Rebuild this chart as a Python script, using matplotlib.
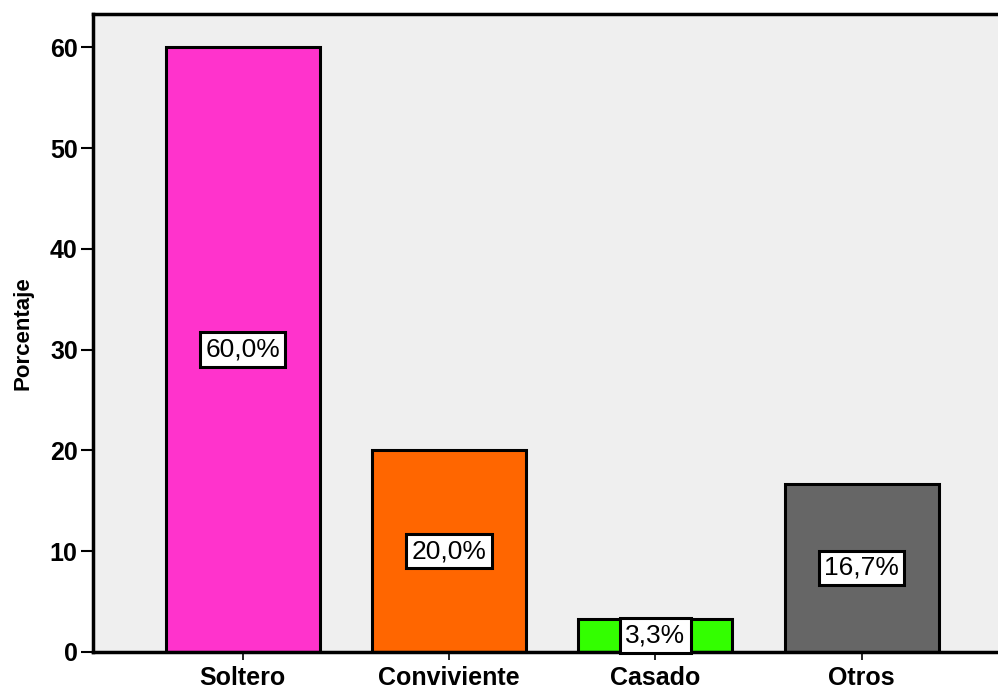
import matplotlib.pyplot as plt

categorias = ['Soltero', 'Conviviente', 'Casado', 'Otros']
porcentajes = [60.0, 20.0, 3.3, 16.7]
etiquetas = ['60,0%', '20,0%', '3,3%', '16,7%']
colores = ['#ff33cc', '#ff6600', '#33ff00', '#666666']

plt.rcParams['font.family'] = ['Liberation Sans', 'DejaVu Sans']

fig = plt.figure(figsize=(9.98, 6.93), dpi=100)
ax = fig.add_axes([0.0932, 0.0592, 0.95, 0.9206])
ax.set_facecolor('#efefef')

x = range(len(categorias))
ax.bar(x, porcentajes, width=0.746, color=colores, edgecolor='black', linewidth=2.2, zorder=2)

# etiquetas de valor en el centro de cada barra
for xi, v, t in zip(x, porcentajes, etiquetas):
    ax.text(xi, v / 2, t, ha='center', va='center', fontsize=19, zorder=5,
            bbox=dict(boxstyle='square,pad=0.2', facecolor='white', edgecolor='black', linewidth=2.2))

ax.set_xlim(-0.726, 3.87)
ax.set_ylim(0, 63.3)
ax.set_xticks(list(x))
ax.set_xticklabels(categorias, fontsize=18, fontweight='bold')
ax.set_yticks([0, 10, 20, 30, 40, 50, 60])
ax.tick_params(axis='y', labelsize=18, length=9, width=1.5, pad=2)
for lbl in ax.get_yticklabels():
    lbl.set_fontweight('bold')
ax.tick_params(axis='x', length=6, width=1.2, pad=4)
ax.set_ylabel('Porcentaje', fontsize=16, fontweight='bold', labelpad=12)

for s in ['left', 'top', 'bottom']:
    ax.spines[s].set_linewidth(2.5)
ax.spines['right'].set_visible(False)
ax.spines['bottom'].set_zorder(3)

fig.savefig('out.png', dpi=100)
